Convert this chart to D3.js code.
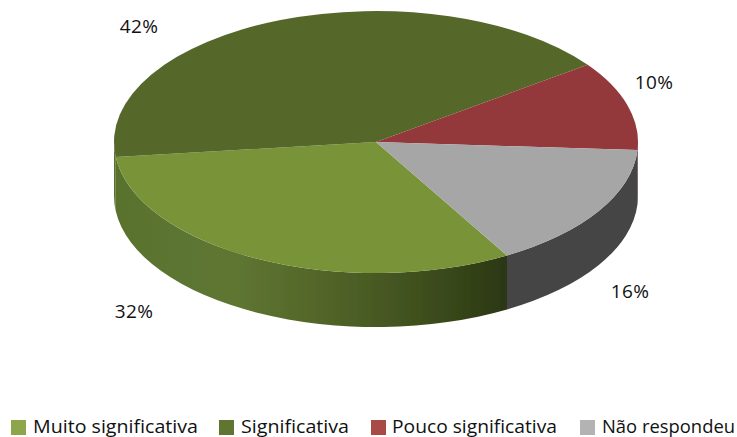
<!DOCTYPE html>
<html><head><meta charset="utf-8">
<script src="https://cdn.jsdelivr.net/npm/d3@7"></script>
<style>html,body{margin:0;padding:0;background:#fff}svg{display:block}text{font-family:"Open Sans",sans-serif;fill:#111}</style>
</head><body><svg id="c" width="737" height="437"></svg>
<script>
const categories=["Muito significativa","Significativa","Pouco significativa","Não respondeu"];
const values=[31.5,41.8,11,15.7]; // slice shares as drawn in the picture
const labels=["32%","42%","10%","16%"];
const topColors=["#799437","#55682a","#93373a","#a6a6a6"];
const legendColors=["#8ea64b","#5f7530","#a84a46","#b3b3b3"];
const sideFills=["url(#sideGreen)","url(#sideGreen)","#6a2426","#454545"];
const labelPos=[[134,312],[139,27],[654,83],[630,292]];
const legendX=[11,219,371,580];
const legendTextX=[33,241,392,602];
const legendW=[165,108,165,133];

const cx=376,cy=142,rx=262,ry=131,depth=54;
const svg=d3.select("#c");
const defs=svg.append("defs");
const g=defs.append("linearGradient").attr("id","sideGreen").attr("gradientUnits","userSpaceOnUse")
 .attr("x1",cx-rx).attr("x2",506).attr("y1",0).attr("y2",0);
[[0,"#59722e"],[0.3,"#5f7632"],[0.55,"#516428"],[0.78,"#3f4f1e"],[1,"#2b3812"]]
 .forEach(s=>g.append("stop").attr("offset",s[0]).attr("stop-color",s[1]));
defs.append("filter").attr("id","soft").append("feGaussianBlur").attr("stdDeviation",0.6);

const rad=d=>d*Math.PI/180;
const pie=d3.pie().sort(null).startAngle(rad(150)).endAngle(rad(510));
const arcs=pie(values);
const px=a=>cx+rx*Math.sin(a), py=a=>cy-ry*Math.cos(a);

const root=svg.append("g").attr("filter","url(#soft)");
// side wall: only the part of each slice facing the viewer (angles 90..270 deg)
arcs.forEach((d,i)=>{
  const a0=d.startAngle,a1=d.endAngle;
  const segs=[[rad(90),rad(270)],[rad(450),rad(630)]];
  segs.forEach(([s,e])=>{
    const b0=Math.max(a0,s),b1=Math.min(a1,e);
    if(b1<=b0)return;
    const dd=`M${px(b0)},${py(b0)}A${rx},${ry} 0 0 1 ${px(b1)},${py(b1)}L${px(b1)},${py(b1)+depth}A${rx},${ry} 0 0 0 ${px(b0)},${py(b0)+depth}Z`;
    root.append("path").attr("d",dd).attr("fill",sideFills[i]);
  });
});
const arc=d3.arc().innerRadius(0).outerRadius(rx);
const topG=root.append("g").attr("transform",`translate(${cx},${cy}) scale(1,${ry/rx})`);
topG.selectAll("path").data(arcs).join("path").attr("d",arc).attr("fill",(d,i)=>topColors[i]);

svg.selectAll("text.lab").data(labels).join("text").attr("class","lab")
 .attr("x",(d,i)=>labelPos[i][0]).attr("y",(d,i)=>labelPos[i][1]+6)
 .attr("text-anchor","middle").attr("font-size",19).attr("letter-spacing",0.4).text(d=>d);

const leg=svg.selectAll("g.leg").data(categories).join("g").attr("class","leg");
leg.append("rect").attr("x",(d,i)=>legendX[i]).attr("y",420).attr("width",15).attr("height",15).attr("fill",(d,i)=>legendColors[i]);
leg.append("text").attr("x",(d,i)=>legendTextX[i]).attr("y",433).attr("font-size",18)
 .attr("textLength",(d,i)=>legendW[i]).attr("lengthAdjust","spacingAndGlyphs").text(d=>d);
</script></body></html>
